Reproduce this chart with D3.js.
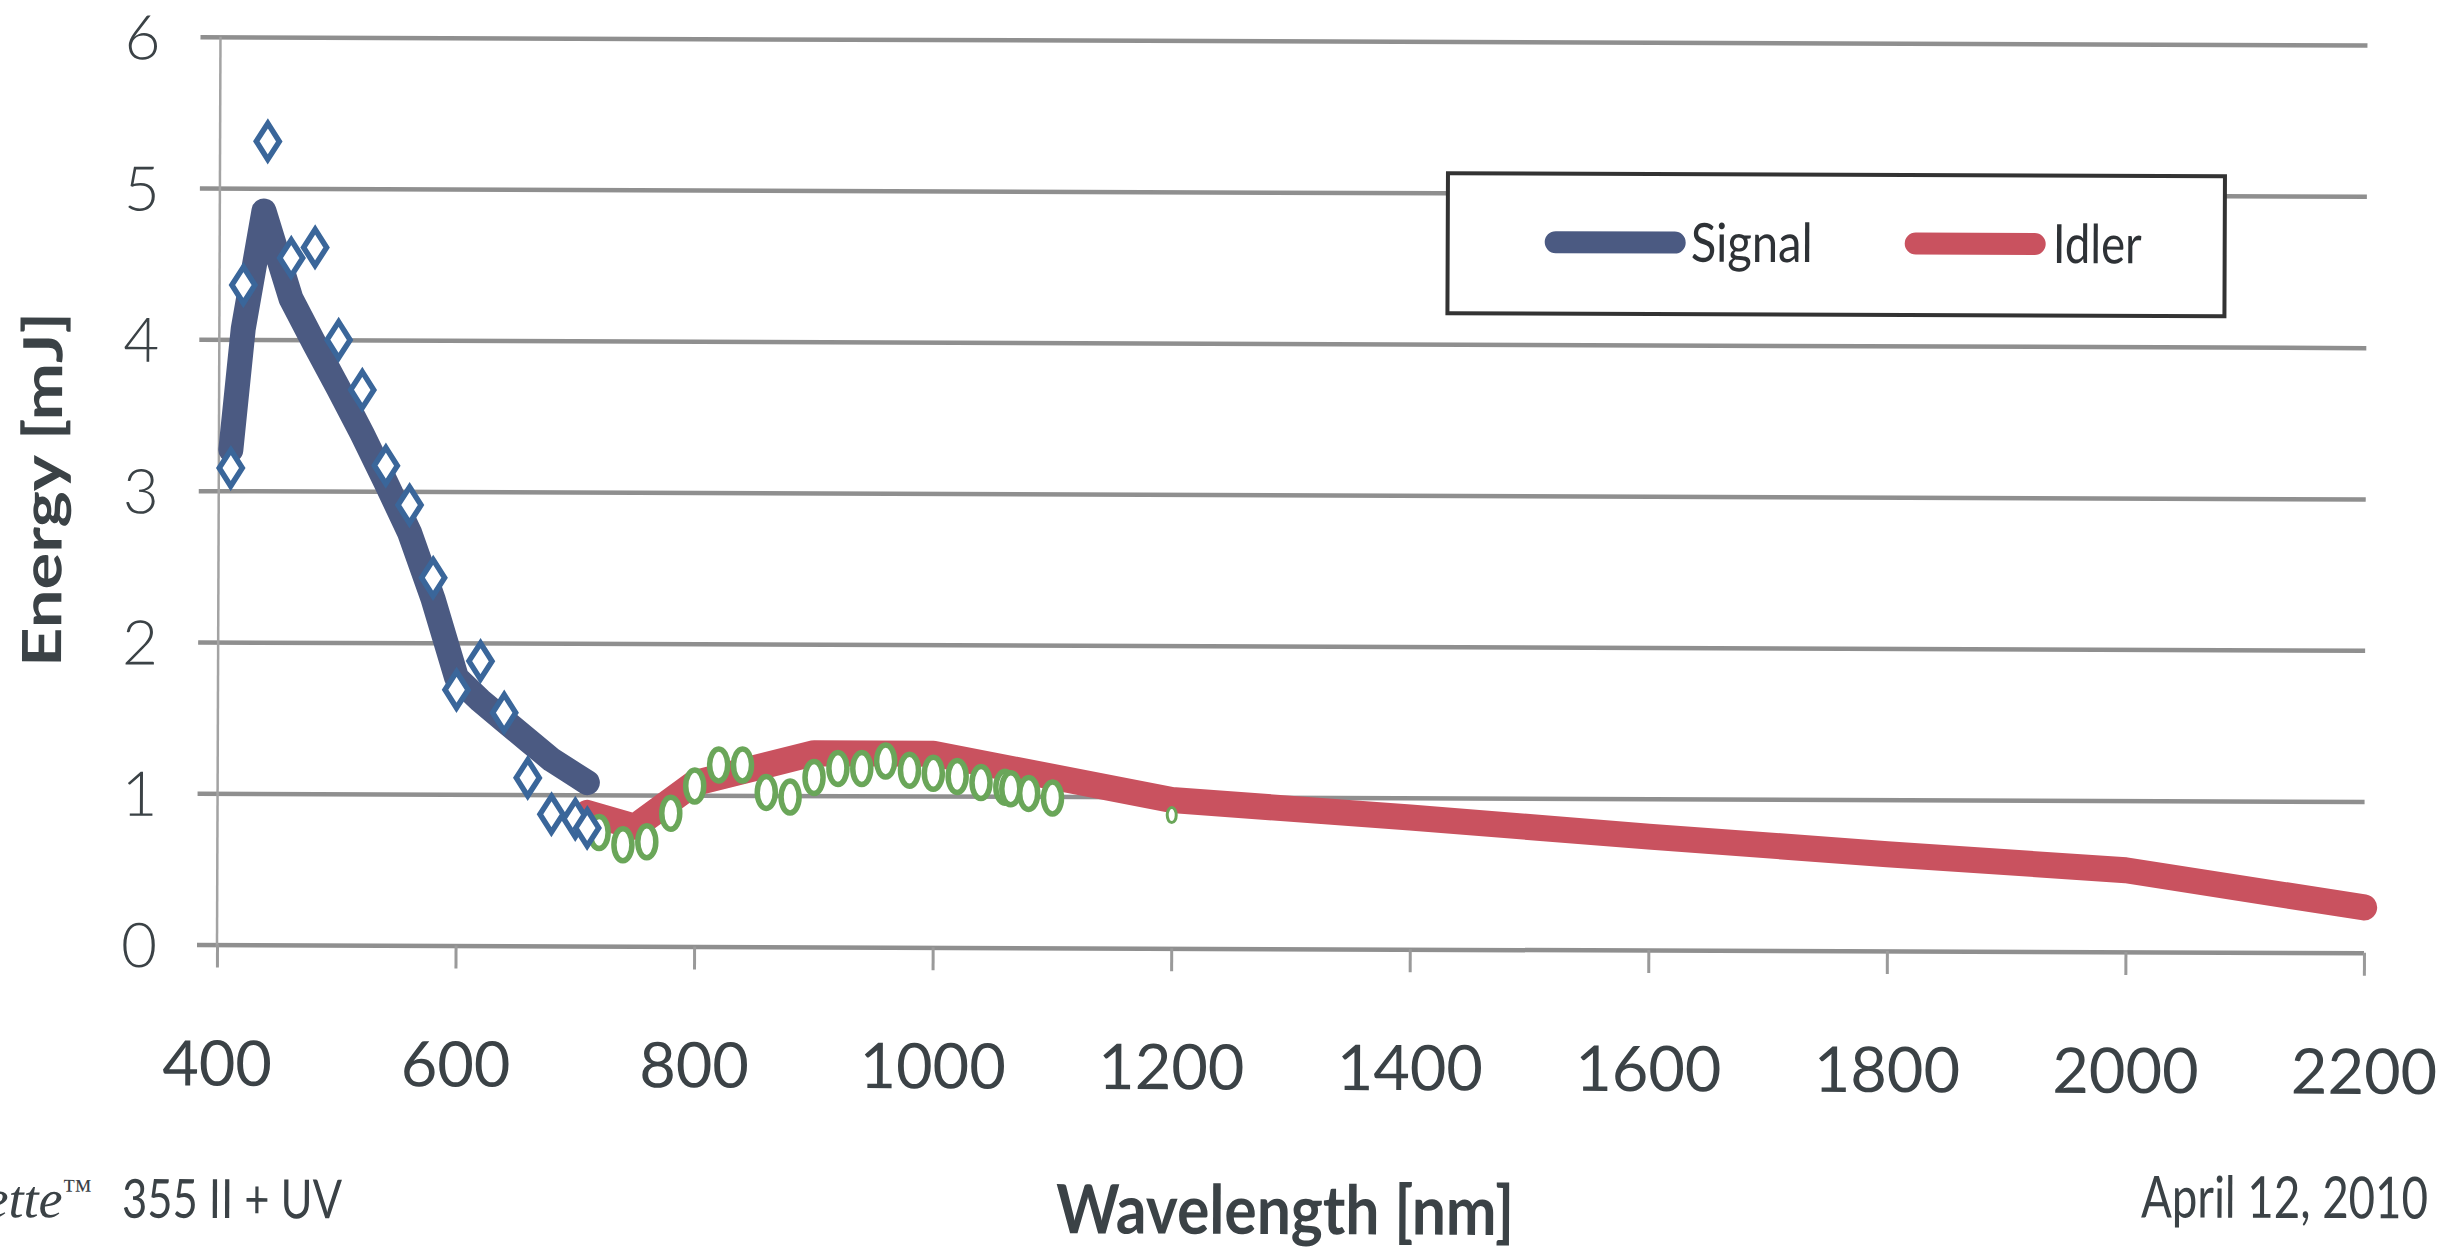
<!DOCTYPE html>
<html>
<head>
<meta charset="utf-8">
<script src="https://cdn.jsdelivr.net/npm/d3@7"></script>
<style>
  html, body { margin: 0; padding: 0; background: #fff; overflow: hidden; }
  svg { display: block; }
</style>
</head>
<body>
<div id="chart"></div>
<script>
// values
var xTicks = [400, 600, 800, 1000, 1200, 1400, 1600, 1800, 2000, 2200];
var yTicks = [0, 1, 2, 3, 4, 5, 6];

// thick "Signal" curve
var signalWl = [410, 420, 437, 460, 480, 500, 520, 540, 560, 580, 600, 620, 640, 660, 680, 700, 710];
var signalE  = [3.27, 4.07, 4.85, 4.27, 3.97, 3.68, 3.38, 3.06, 2.73, 2.29, 1.77, 1.62, 1.49, 1.36, 1.23, 1.13, 1.08];

// measured signal points (diamonds)
var signalPtWl = [410, 420, 440, 460, 480, 500, 520, 540, 560, 580, 600, 620, 640, 660, 680, 700, 710];
var signalPtE  = [3.15, 4.36, 5.31, 4.54, 4.61, 4.00, 3.67, 3.17, 2.91, 2.43, 1.69, 1.88, 1.54, 1.11, 0.87, 0.84, 0.78];

// thick "Idler" curve
var idlerWl = [710, 750, 800, 900, 1000, 1200, 1400, 1600, 1800, 2000, 2200];
var idlerE  = [0.88, 0.79, 1.08, 1.28, 1.28, 0.98, 0.87, 0.75, 0.64, 0.54, 0.30];

// measured idler points (open ellipses)
var idlerPtWl = [720, 740, 760, 780, 800, 820, 840, 860, 880, 900, 920, 940, 960, 980, 1000, 1020, 1040, 1060, 1065, 1080, 1100, 1200];
var idlerPtE  = [0.75, 0.67, 0.69, 0.88, 1.06, 1.20, 1.20, 1.02, 0.99, 1.12, 1.18, 1.18, 1.23, 1.17, 1.15, 1.13, 1.09, 1.06, 1.05, 1.02, 0.99, 0.88];

function renderChart(render_id) {
    var W = 2457, H = 1253;
    var plotLeft = 217, plotRight = 2364, plotTop = 36.8, plotBottom = 944.6;

    var svg = d3.select("#" + render_id).append("svg")
        .attr("width", W)
        .attr("height", H);

    // the scan is slightly rotated
    var g = svg.append("g")
        .attr("transform", "rotate(0.22," + plotLeft + "," + plotBottom + ")");

    var x = d3.scaleLinear().domain([400, 2200]).range([plotLeft, plotRight]);
    var y = d3.scaleLinear().domain([0, 6]).range([plotBottom, plotTop]);

    var textColor = "#3b4246";
    var fontFam = "Lato, 'Open Sans', sans-serif";

    // gridlines + y tick labels
    var yAxis = g.append("g")
        .attr("class", "axis axis--y")
        .attr("transform", "translate(" + plotLeft + ",0)")
        .call(d3.axisLeft(y).tickValues(yTicks).tickFormat(d3.format("d")).tickSize(-(plotRight - plotLeft)));
    yAxis.select(".domain").remove();
    yAxis.selectAll(".tick line")
        .attr("x1", -20)
        .attr("stroke", "#8f8f8f")
        .attr("stroke-width", 4.5);
    yAxis.selectAll(".tick text")
        .attr("x", -60)
        .attr("dy", "0.36em")
        .attr("fill", textColor)
        .style("font-family", fontFam)
        .style("font-size", "62px")
        .style("font-weight", 300);

    // vertical axis line
    g.append("line")
        .attr("x1", plotLeft).attr("x2", plotLeft)
        .attr("y1", plotTop).attr("y2", plotBottom + 2)
        .attr("stroke", "#a3a3a3")
        .attr("stroke-width", 2.5);

    // x axis ticks + labels
    var xAxis = g.append("g")
        .attr("class", "axis axis--x")
        .attr("transform", "translate(0," + plotBottom + ")")
        .call(d3.axisBottom(x).tickValues(xTicks).tickFormat(d3.format("d")).tickSize(23));
    xAxis.select(".domain").remove();
    xAxis.selectAll(".tick line")
        .attr("stroke", "#9a9a9a")
        .attr("stroke-width", 3);
    xAxis.selectAll(".tick text")
        .attr("y", 141)
        .attr("dy", 0)
        .attr("fill", textColor)
        .style("font-family", fontFam)
        .style("font-size", "63px")
        .style("font-weight", 400);

    // legend box
    var legend = g.append("g").attr("class", "legend");
    legend.append("rect")
        .attr("x", 1445).attr("y", 168.5)
        .attr("width", 777).attr("height", 140)
        .attr("fill", "#fff")
        .attr("stroke", "#333")
        .attr("stroke-width", 4);
    var legendItems = [
        { name: "Signal", color: "#4b5a82", x0: 1553, x1: 1672, tx: 1688, tl: 122 },
        { name: "Idler", color: "#c9525f", x0: 1913, x1: 2032, tx: 2050, tl: 89 }
    ];
    legend.selectAll(".item-line")
        .data(legendItems)
        .enter().append("line")
        .attr("x1", function (d) { return d.x0; })
        .attr("x2", function (d) { return d.x1; })
        .attr("y1", 237).attr("y2", 237)
        .attr("stroke", function (d) { return d.color; })
        .attr("stroke-width", 22)
        .attr("stroke-linecap", "round");
    legend.selectAll(".item-text")
        .data(legendItems)
        .enter().append("text")
        .attr("x", function (d) { return d.tx; })
        .attr("y", 256)
        .attr("textLength", function (d) { return d.tl; })
        .attr("lengthAdjust", "spacingAndGlyphs")
        .attr("fill", "#2e3236")
        .style("font-family", fontFam)
        .style("font-size", "54px")
        .text(function (d) { return d.name; });

    var line = d3.line()
        .x(function (d) { return x(d[0]); })
        .y(function (d) { return y(d[1]); });

    var idler = d3.zip(idlerWl, idlerE);
    var signal = d3.zip(signalWl, signalE);

    g.append("path")
        .datum(idler)
        .attr("class", "line idler")
        .attr("fill", "none")
        .attr("stroke", "#c9525f")
        .attr("stroke-width", 26)
        .attr("stroke-linejoin", "round")
        .attr("stroke-linecap", "round")
        .attr("d", line);

    g.append("path")
        .datum(signal)
        .attr("class", "line signal")
        .attr("fill", "none")
        .attr("stroke", "#4b5a82")
        .attr("stroke-width", 25)
        .attr("stroke-linejoin", "round")
        .attr("stroke-linecap", "round")
        .attr("d", line);

    // idler measurements
    var idlerPts = d3.zip(idlerPtWl, idlerPtE);
    var last = idlerPts.length - 1;
    g.selectAll(".idler-pt")
        .data(idlerPts)
        .enter().append("ellipse")
        .attr("class", "idler-pt")
        .attr("cx", function (d) { return x(d[0]); })
        .attr("cy", function (d) { return y(d[1]); })
        .attr("rx", function (d, i) { return i === last ? 4.5 : 9; })
        .attr("ry", function (d, i) { return i === last ? 7.5 : 16; })
        .attr("fill", "#fff")
        .attr("stroke", "#6aa659")
        .attr("stroke-width", function (d, i) { return i === last ? 3 : 5.5; });

    // signal measurements
    var signalPts = d3.zip(signalPtWl, signalPtE);
    g.selectAll(".signal-pt")
        .data(signalPts)
        .enter().append("path")
        .attr("class", "signal-pt")
        .attr("transform", function (d) { return "translate(" + x(d[0]) + "," + y(d[1]) + ")"; })
        .attr("d", "M0,-18L11.5,0L0,18L-11.5,0Z")
        .attr("fill", "#fff")
        .attr("stroke", "#3a669a")
        .attr("stroke-width", 5.5);

    // axis titles
    g.append("text")
        .attr("transform", "translate(60,490) rotate(-90)")
        .attr("text-anchor", "middle")
        .attr("textLength", 355)
        .attr("lengthAdjust", "spacingAndGlyphs")
        .attr("fill", textColor)
        .style("font-family", fontFam)
        .style("font-size", "54px")
        .style("font-weight", 700)
        .text("Energy [mJ]");

    g.append("text")
        .attr("x", 1286)
        .attr("y", 1230)
        .attr("text-anchor", "middle")
        .attr("textLength", 458)
        .attr("lengthAdjust", "spacingAndGlyphs")
        .attr("fill", textColor)
        .style("font-family", fontFam)
        .style("font-size", "68px")
        .style("font-weight", 700)
        .text("Wavelength [nm]");

    // footer texts
    g.append("text")
        .attr("x", 2429)
        .attr("y", 1210)
        .attr("text-anchor", "end")
        .attr("textLength", 287)
        .attr("lengthAdjust", "spacingAndGlyphs")
        .attr("fill", textColor)
        .style("font-family", fontFam)
        .style("font-size", "58px")
        .text("April 12, 2010");

    g.append("text")
        .attr("x", 123)
        .attr("y", 1218)
        .attr("textLength", 220)
        .attr("lengthAdjust", "spacingAndGlyphs")
        .attr("fill", textColor)
        .style("font-family", fontFam)
        .style("font-size", "54px")
        .text("355 II + UV");

    var brand = g.append("text")
        .attr("x", 93)
        .attr("y", 1218)
        .attr("text-anchor", "end")
        .attr("fill", textColor)
        .style("font-family", "'Liberation Serif', 'DejaVu Serif', serif")
        .style("font-style", "italic")
        .style("font-size", "54px");
    brand.append("tspan").text("Opolette");
    brand.append("tspan")
        .attr("dy", -18)
        .style("font-style", "normal")
        .style("font-size", "30px")
        .text("\u2122");
}

renderChart("chart");
</script>
</body>
</html>
